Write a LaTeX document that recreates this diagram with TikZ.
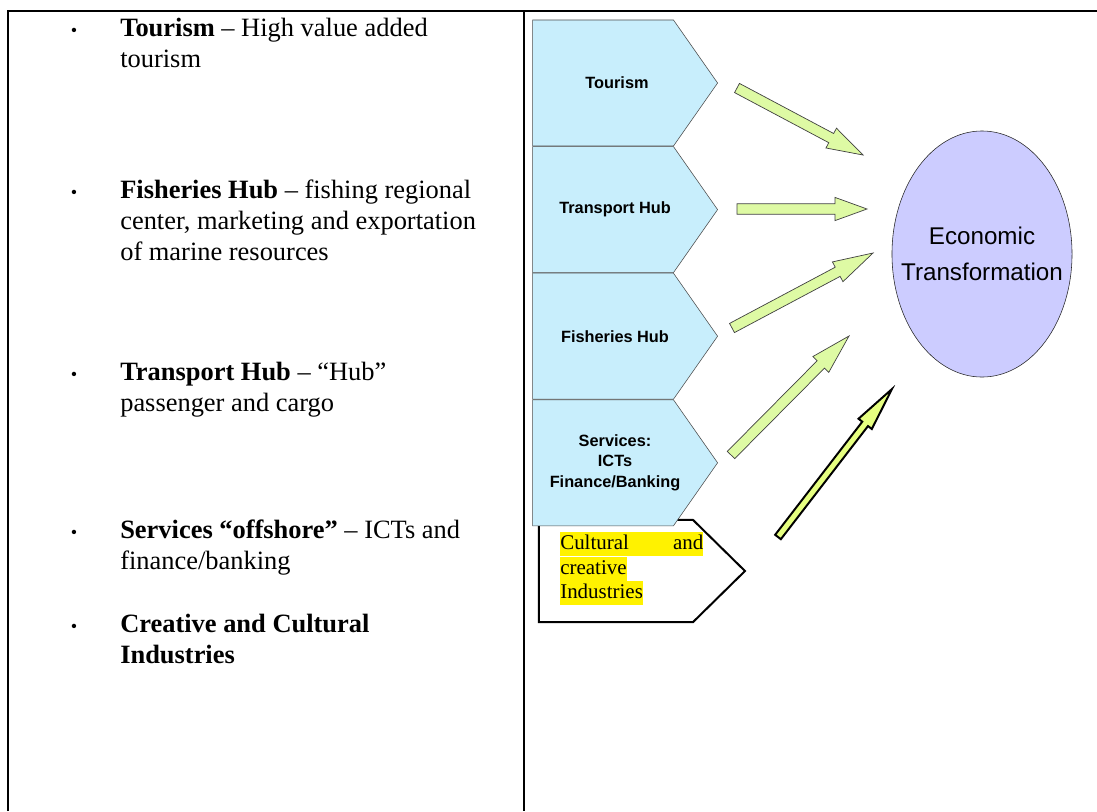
\documentclass[tikz,border=0pt]{standalone}
\usepackage{fontspec}
\setmainfont{Liberation Serif}
\setsansfont{Liberation Sans}
\usetikzlibrary{shapes.geometric,shapes.symbols,calc,positioning}
\definecolor{chevblue}{RGB}{200,238,252}
\definecolor{ellblue}{RGB}{204,204,255}
\definecolor{arrgreen}{RGB}{222,250,164}
\definecolor{arrlime}{RGB}{230,255,128}
\tikzset
{
    chevron/.style  = {signal, signal to=east, signal pointer angle=110, draw=black!70, fill=chevblue, minimum width=46.25mm, minimum height=31.5mm, inner sep=0pt},
    chevtext/.style = {inner sep=0pt, align=center, font=\sffamily\bfseries\fontsize{11.6}{14.9}\selectfont},
    chevwhite/.style = {signal, signal to=east, signal pointer angle=89, draw=black, line width=0.5mm, fill=white, minimum width=51.5mm, minimum height=25.5mm, inner sep=0pt},
    goal/.style     = {ellipse, draw=black!85, fill=ellblue, minimum width=45mm, minimum height=61.5mm, inner sep=0pt},
    goaltext/.style = {inner sep=0pt, align=center, font=\sffamily\fontsize{17.2}{25.6}\selectfont},
    item/.style     = {anchor=north west, inner sep=0pt, align=left, font=\fontsize{18.8}{22}\selectfont},
    dot/.style      = {anchor=base, inner sep=0pt, font=\fontsize{13}{13}\selectfont},
    hlbox/.style    = {anchor=north west, inner sep=0pt, fill=yellow, text height=4.3mm, text depth=1.7mm, font=\fontsize{14.9}{17}\selectfont},
    blockarr/.style = {draw=black!75, fill=arrgreen, line width=0.5pt, line join=miter},
    tableline/.style = {line width=0.5mm}
}
% block arrow from (t#2) to (h#2): half shaft, half head, head length
\newcommand\blockarrow[5][]{%
    \coordinate (b#2) at ($(h#2)!#5!(t#2)$);
    \draw[blockarr,#1] ($(t#2)!#3!90:(h#2)$) -- ($(b#2)!#3!90:(h#2)$) -- ($(b#2)!#4!90:(h#2)$) -- (h#2)
        -- ($(b#2)!#4!-90:(h#2)$) -- ($(b#2)!#3!-90:(h#2)$) -- ($(t#2)!#3!-90:(h#2)$) -- cycle;
}

\begin{document}
\begin{tikzpicture}[x=0.025cm, y=-0.025cm]
    \useasboundingbox (0,0) rectangle (1097,811);

    % table
    \draw[tableline] (8,811) -- (8,11) -- (1097,11);
    \draw[tableline] (524,11) -- (524,811);

    % left column
    \node (itour)  [item] at (120,18)  {\textbf{Tourism} -- High value added\\tourism};
    \node (ifish)  [item] at (120,180) {\textbf{Fisheries Hub} -- fishing regional\\center, marketing and exportation\\of marine resources};
    \node (itrans) [item] at (120,362) {\textbf{Transport Hub} -- ``Hub''\\passenger and cargo};
    \node (iserv)  [item] at (120,520) {\textbf{Services ``offshore''} -- ICTs and\\finance/banking};
    \node (icult)  [item] at (120,614) {\textbf{Creative and Cultural}\\\textbf{Industries}};
    \node (dtour)  [dot] at (74,36)  {\textbullet};
    \node (dfish)  [dot] at (74,198) {\textbullet};
    \node (dtrans) [dot] at (74,380) {\textbullet};
    \node (dserv)  [dot] at (74,538) {\textbullet};
    \node (dcult)  [dot] at (74,632) {\textbullet};

    % right column
    \node (cult)  [chevwhite] at (616,571) {};
    \node (cult1) [hlbox, text width=35.75mm] at (560,532) {Cultural\hfill and};
    \node (cult2) [hlbox, below=0pt of cult1.south west, anchor=north west] {creative};
    \node (cult3) [hlbox, below=0pt of cult2.south west, anchor=north west] {Industries};

    \node (tour)  [chevron] at (603,83) {};
    \node (trans) [chevron, below=0pt of tour] {};
    \node (fish)  [chevron, below=0pt of trans] {};
    \node (serv)  [chevron, below=0pt of fish] {};
    \node (tourtxt)  [chevtext] at ([xshift=3.5mm]tour.center)  {Tourism};
    \node (transtxt) [chevtext] at ([xshift=3mm]trans.center) {Transport Hub};
    \node (fishtxt)  [chevtext] at ([xshift=3mm]fish.center)  {Fisheries Hub};
    \node (servtxt)  [chevtext] at ([xshift=3mm]serv.center)  {Services:\\ICTs\\Finance/Banking};

    \node (econ)    [goal] at (982,254) {};
    \node (econtxt) [goaltext] at (econ.center) {Economic\\Transformation};

    \coordinate (t1) at (737,88);  \coordinate (h1) at (863,155);
    \coordinate (t2) at (737,209); \coordinate (h2) at (867,209);
    \coordinate (t3) at (732,328); \coordinate (h3) at (873,253);
    \coordinate (t4) at (731,455); \coordinate (h4) at (849,336);
    \coordinate (t5) at (778,537); \coordinate (h5) at (892,389);
    \blockarrow{1}{1.3mm}{2.8mm}{9mm}
    \blockarrow{2}{1.3mm}{2.9mm}{8mm}
    \blockarrow{3}{1.3mm}{2.8mm}{10mm}
    \blockarrow{4}{1.3mm}{2.8mm}{10mm}
    \blockarrow[draw=black, fill=arrlime, line width=1.4pt]{5}{0.9mm}{2.1mm}{11mm}
\end{tikzpicture}
\end{document}
